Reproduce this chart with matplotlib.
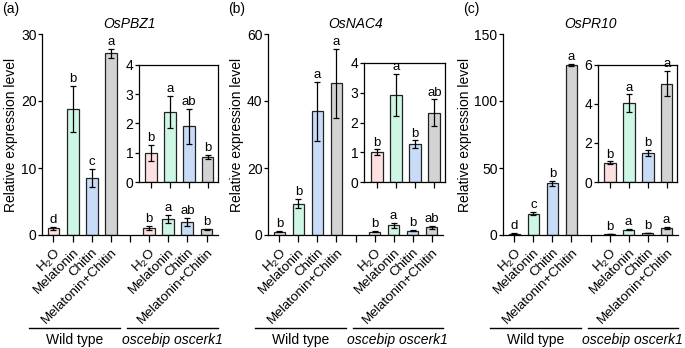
import matplotlib
matplotlib.use("Agg")
import matplotlib.pyplot as plt
from matplotlib.transforms import blended_transform_factory

plt.rcParams["font.family"] = ["Liberation Sans", "DejaVu Sans"]
plt.rcParams["mathtext.fontset"] = "custom"
plt.rcParams["mathtext.rm"] = "Liberation Sans"

treatments = ["H$_2$O", "Melatonin", "Chitin", "Melatonin+Chitin"]
colors = ["#fde0e0", "#cdf7e4", "#c8dcf7", "#d3d3d3"]
genes = ["OsPBZ1", "OsNAC4", "OsPR10"]
panel_tags = ["(a)", "(b)", "(c)"]

# wild type: mean, sd, letters
wt_mean = [[1.0, 18.8, 8.5, 27.1], [1.0, 9.3, 37.0, 45.3], [1.0, 16.0, 38.5, 127.0]]
wt_err = [[0.2, 3.5, 1.3, 0.7], [0.15, 1.3, 8.8, 10.3], [0.4, 1.0, 2.0, 0.7]]
wt_letters = [["d", "b", "c", "a"], ["b", "b", "a", "a"], ["d", "c", "b", "a"]]
# oscebip oscerk1 mutant
mu_mean = [[1.0, 2.4, 1.9, 0.87], [1.0, 2.93, 1.27, 2.33], [1.0, 4.05, 1.5, 5.05]]
mu_err = [[0.28, 0.55, 0.6, 0.07], [0.1, 0.7, 0.13, 0.45], [0.07, 0.45, 0.15, 0.65]]
mu_letters = [["b", "a", "ab", "b"], ["b", "a", "b", "ab"], ["b", "a", "b", "a"]]

ymax = [30, 60, 150]
ystep = [10, 20, 50]
inset_max = [4, 4, 6]
inset_step = [1, 1, 2]

W, H = 685, 348
fig = plt.figure(figsize=(W / 100, H / 100), dpi=100)


def px(l, t, r, b):
    return [l / W, 1 - b / H, (r - l) / W, (b - t) / H]


main_pos = [(42, 34, 218, 235), (268, 34, 443, 235), (503, 34, 678, 235)]
inset_pos = [(139, 65, 218, 182), (364, 63, 445, 182), (598, 65, 677, 182)]
FS = 10


def bars(ax, x, means, errs, letters, top):
    ax.bar(x, means, width=0.62, color=colors, edgecolor="#222222", linewidth=0.9, zorder=2)
    ax.errorbar(x, means, yerr=errs, fmt="none", ecolor="black", elinewidth=0.9,
                capsize=2.5, capthick=0.9, zorder=3)
    for xi, m, e, s in zip(x, means, errs, letters):
        ax.text(xi, m + e + top * 0.005, s, ha="center", va="bottom", fontsize=9.5)


for i in range(3):
    ax = fig.add_axes(px(*main_pos[i]))
    x_wt = [0, 1, 2, 3]
    x_mu = [5, 6, 7, 8]
    bars(ax, x_wt, wt_mean[i], wt_err[i], wt_letters[i], ymax[i])
    bars(ax, x_mu, mu_mean[i], mu_err[i], mu_letters[i], ymax[i])
    ax.set_xlim(-0.6, 8.6)
    ax.set_ylim(0, ymax[i])
    ax.set_yticks(range(0, ymax[i] + 1, ystep[i]))
    ax.set_xticks(range(9))
    ax.set_xticklabels(treatments + [""] + treatments, rotation=45, ha="right",
                       rotation_mode="anchor", fontsize=9.7)
    ax.tick_params(axis="y", labelsize=FS, length=3, width=0.9, pad=1)
    ax.tick_params(axis="x", length=5, width=0.9, pad=3)
    for s in ["top", "right"]:
        ax.spines[s].set_visible(False)
    for s in ["left", "bottom"]:
        ax.spines[s].set_linewidth(0.9)
    ax.set_ylabel("Relative expression level", fontsize=FS, labelpad=2)
    ax.set_title(genes[i], fontsize=FS, style="italic", pad=4)
    tr = blended_transform_factory(ax.transData, ax.transAxes)
    ax.plot([-1.3, 3.5], [-0.465, -0.465], color="black", lw=1.0, transform=tr, clip_on=False)
    ax.plot([3.85, 8.6], [-0.465, -0.465], color="black", lw=1.0, transform=tr, clip_on=False)
    ax.text(1.1, -0.49, "Wild type", transform=tr, ha="center", va="top", fontsize=FS)
    ax.text(6.22, -0.49, "oscebip oscerk1", transform=tr, ha="center", va="top",
            fontsize=FS, style="italic")
    fig.text((main_pos[i][0] - 40) / W, 1 - 2 / H, panel_tags[i], ha="left", va="top",
             fontsize=FS)

    axi = fig.add_axes(px(*inset_pos[i]))
    bars(axi, [0, 1, 2, 3], mu_mean[i], mu_err[i], mu_letters[i], inset_max[i])
    axi.set_xlim(-0.65, 3.55)
    axi.set_ylim(0, inset_max[i])
    axi.set_yticks(range(0, inset_max[i] + 1, inset_step[i]))
    axi.set_xticks([0, 1, 2, 3])
    axi.set_xticklabels([])
    axi.tick_params(axis="y", labelsize=FS, length=3, width=0.9, pad=1)
    axi.tick_params(axis="x", length=4, width=0.9)
    for s in axi.spines.values():
        s.set_linewidth(0.9)

fig.savefig("out.png", dpi=100)
